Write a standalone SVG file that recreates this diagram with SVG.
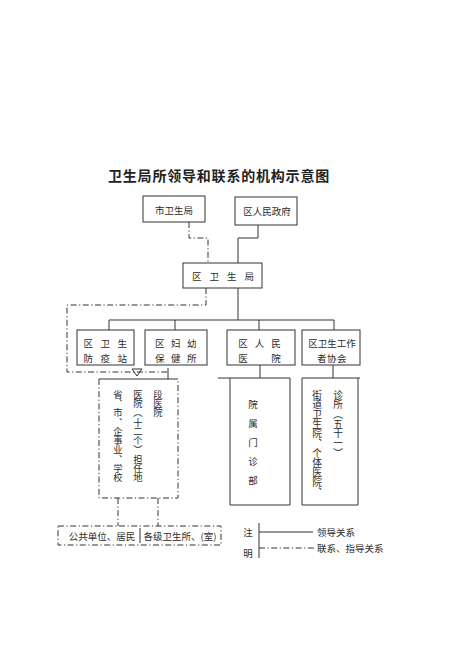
<svg xmlns="http://www.w3.org/2000/svg" width="450" height="657" viewBox="0 0 450 657">
<style>
.box{fill:#fff;stroke:#333;stroke-width:1}
.ln{fill:none;stroke:#333;stroke-width:1}
.dd{fill:none;stroke:#333;stroke-width:1;stroke-dasharray:6 2.5 1.2 2.5}
.t{font-family:"Noto Sans CJK SC","Noto Sans",sans-serif;font-size:9.5px;fill:#2b2b2b;text-anchor:middle;dominant-baseline:central}
.v{font-family:"Noto Sans CJK SC","Noto Sans",sans-serif;fill:#2b2b2b;writing-mode:vertical-rl}
.title{font-family:"Noto Sans CJK SC","Noto Sans",sans-serif;font-size:14px;font-weight:bold;letter-spacing:0.8px;fill:#222;text-anchor:middle;dominant-baseline:central}
</style>
<rect width="450" height="657" fill="#fff"/>
<text class="title" x="219" y="175">卫生局所领导和联系的机构示意图</text>

<g id="connectors">
  <polyline class="dd" points="189,222 189,238 208,238 208,263"/>
  <polyline class="ln" points="258,225 258,238 238,238 238,263"/>
  <line class="ln" x1="238" y1="288" x2="238" y2="320"/>
  <line class="ln" x1="109" y1="320" x2="334" y2="320"/>
  <line class="ln" x1="109" y1="320" x2="109" y2="330"/>
  <line class="ln" x1="175" y1="320" x2="175" y2="330"/>
  <line class="ln" x1="259" y1="320" x2="259" y2="330"/>
  <line class="ln" x1="334" y1="320" x2="334" y2="330"/>
  <polyline class="dd" points="206,288 206,305 67,305 67,372 168,372"/>
  <line class="ln" x1="168" y1="368" x2="168" y2="379"/>
  <polygon class="ln" points="132,369 142,369 137,376"/>
  <line class="ln" x1="260" y1="365" x2="260" y2="378"/>
  <line class="ln" x1="333" y1="365" x2="333" y2="378"/>
  <line class="dd" x1="118" y1="498" x2="118" y2="526"/>
  <line class="dd" x1="158" y1="498" x2="158" y2="526"/>
</g>

<g id="n-shi">
  <rect class="box" x="143" y="196" width="62" height="26"/>
  <text class="t" x="174" y="210">市卫生局</text>
</g>
<g id="n-zhengfu">
  <rect class="box" x="235" y="197" width="62" height="28"/>
  <text class="t" x="267" y="211">区人民政府</text>
</g>
<g id="n-weisheng">
  <rect class="box" x="183" y="263" width="79" height="25"/>
  <text class="t" x="227" y="276" style="letter-spacing:8px">区卫生局</text>
</g>

<g id="n-fangyi">
  <rect class="box" x="77" y="330" width="57" height="35"/>
  <text class="t" x="109" y="343" style="letter-spacing:7.5px">区卫生</text>
  <text class="t" x="109" y="358" style="letter-spacing:7.5px">防疫站</text>
</g>
<g id="n-fuyou">
  <rect class="box" x="145" y="330" width="62" height="35"/>
  <text class="t" x="179" y="343" style="letter-spacing:6.5px">区妇幼</text>
  <text class="t" x="179" y="358" style="letter-spacing:6.5px">保健所</text>
</g>
<g id="n-yiyuan">
  <rect class="box" x="227" y="330" width="68" height="35"/>
  <text class="t" x="263" y="343" style="letter-spacing:7px">区人民</text>
  <text class="t" x="243" y="358">医</text>
  <text class="t" x="276" y="358">院</text>
</g>
<g id="n-xiehui">
  <rect class="box" x="302" y="330" width="58" height="35"/>
  <text class="t" x="332" y="343">区卫生工作</text>
  <text class="t" x="332" y="358" style="letter-spacing:0.5px">者协会</text>
</g>

<g id="n-shengshi">
  <line class="ln" x1="99" y1="379" x2="178" y2="379"/>
  <polyline class="dd" points="99,379 99,498 178,498 178,379"/>
  <text class="v" x="118" y="389.5" style="font-size:9.3px">省、市、企事业、学校</text>
  <text class="v" x="138" y="389.5" style="font-size:9.3px">医院（十二个）担任地</text>
  <text class="v" x="158" y="389.5" style="font-size:9.3px">段医院</text>
</g>

<g id="n-menzhen">
  <line class="ln" x1="218" y1="378" x2="290" y2="378"/>
  <polyline class="ln" points="230,378 230,505 290,505 290,378"/>
  <text class="v" x="253" y="400" style="font-size:9.5px;letter-spacing:9.5px">院属门诊部</text>
</g>

<g id="n-jiedao">
  <line class="ln" x1="302" y1="378" x2="360" y2="378"/>
  <polyline class="ln" points="302,378 302,505 358,505 358,378"/>
  <text class="v" x="317" y="390" style="font-size:9.7px">街道卫生院、个体医院、</text>
  <text class="v" x="338" y="390" style="font-size:9.7px">诊所（五十一）</text>
</g>

<g id="n-bottom">
  <rect class="dd" x="58" y="526" width="163" height="19"/>
  <line class="ln" x1="140" y1="528" x2="140" y2="543"/>
  <text class="t" x="102" y="536">公共单位、居民</text>
  <text class="t" x="180" y="536">各级卫生所、(室)</text>
</g>

<g id="legend">
  <text class="t" x="248" y="532">注</text>
  <text class="t" x="248" y="553">明</text>
  <line class="ln" x1="259" y1="523" x2="259" y2="558"/>
  <line class="ln" x1="259" y1="532" x2="313" y2="532"/>
  <line class="dd" x1="259" y1="548" x2="316" y2="548"/>
  <text class="t" x="317" y="532" style="text-anchor:start">领导关系</text>
  <text class="t" x="317" y="548" style="text-anchor:start">联系、指导关系</text>
</g>
</svg>
